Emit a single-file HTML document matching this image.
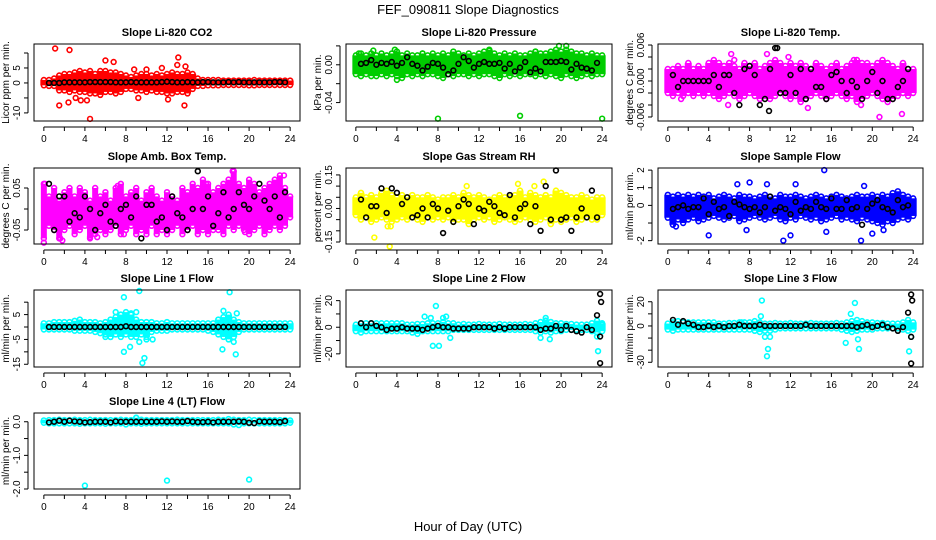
<!DOCTYPE html>
<html><head><meta charset="utf-8"><style>
body{margin:0;background:#fff}
svg{display:block;font-family:"Liberation Sans",Arial,sans-serif}
</style></head><body>
<svg id="chart" width="936" height="540" viewBox="0 0 936 540">
<rect width="936" height="540" fill="#fff"/>
<text x="468" y="14" text-anchor="middle" font-size="13">FEF_090811  Slope Diagnostics</text>
<text x="468" y="531" text-anchor="middle" font-size="13">Hour of Day (UTC)</text>
</svg>
<script>
const xTicks=[0,2,4,6,8,10,12,14,16,18,20,22,24];
const xTickLabels=["0","","4","","8","","12","","16","","20","","24"];
// CO2
const co2Hi=[1,1,1.5,2.5,3,3,3.5,4,3.5,4,3,4,4,3.5,3.5,3,2.5,2,2.5,3,3,2.5,3,2.5,3,3.5,3,3,3.5,3,1.5,1,1,1,1,0.8,0.8,0.8,0.8,0.8,0.8,1,0.8,0.8,0.8,0.8,0.8,0.8,0.8];
const co2Lo=[-0.8,-1,-1,-2.5,-2.5,-3,-2.5,-3,-3,-3.5,-3.5,-4,-3,-3,-3.5,-3,-2,-2,-2.5,-2.5,-3,-2.5,-3,-3,-3.5,-3.5,-3,-3,-3.5,-2,-1,-1,-0.8,-0.8,-0.8,-0.7,-0.7,-0.7,-0.7,-0.7,-0.8,-0.8,-0.7,-0.7,-0.7,-0.7,-0.7,-0.7,-0.7];
const co2OutX=[1.1,2.5,1.5,2.4,3.1,3.6,4.2,4.5,6,6.8,9.2,10,12.1,13.1,13,13.7,13.8,8.8,11.5];
const co2OutY=[11.5,11,-7.5,-6.5,-5,-5.8,-5.8,-12,7.5,7,-5,4.5,-5.5,8.5,6,-7.5,5.5,4.5,5];
const co2Blk=[0,0,0,0.2,0.2,0.2,0.2,0.2,0.3,0.3,0.3,0.3,0.3,0.2,0.2,0.2,0.3,0.2,0.2,0.2,0.2,0.2,0.3,0.4,0.3,0.2,0.2,0.3,0.2,0.2,0.3,0.3,0.2,0.2,0.2,0.3,0.2,0.3,0.2,0.2,0.2,0.2,0.2,0.2,0.3,0.3,0.2];
// Pressure
const prHi=[0.01,0.012,0.01,0.012,0.01,0.012,0.01,0.012,0.014,0.01,0.012,0.01,0.01,0.012,0.01,0.012,0.01,0.012,0.01,0.014,0.012,0.01,0.012,0.01,0.012,0.014,0.016,0.012,0.01,0.012,0.01,0.012,0.01,0.01,0.012,0.014,0.012,0.012,0.014,0.016,0.014,0.016,0.014,0.012,0.012,0.01,0.012,0.01,0.01];
const prLo=[-0.01,-0.012,-0.01,-0.012,-0.012,-0.01,-0.012,-0.01,-0.012,-0.014,-0.01,-0.012,-0.01,-0.012,-0.01,-0.01,-0.012,-0.014,-0.01,-0.012,-0.01,-0.01,-0.012,-0.01,-0.012,-0.01,-0.01,-0.012,-0.014,-0.01,-0.012,-0.01,-0.012,-0.01,-0.01,-0.012,-0.01,-0.012,-0.01,-0.012,-0.014,-0.01,-0.012,-0.014,-0.012,-0.01,-0.012,-0.01,-0.01];
const prOutX=[8,16,24,1.7,3.8,13,19.8,20.5,4,0.3,6.5,17.5];
const prOutY=[-0.057,-0.054,-0.057,0.015,0.016,0.015,0.02,0.02,-0.016,0.012,0.012,0.014];
const prBlk=[0.001,0.002,0.005,0,0.002,0.001,0.003,-0.001,0.002,0.008,0.001,-0.001,-0.006,-0.002,0.002,0.001,-0.003,-0.01,-0.006,0.001,0.008,0.004,-0.003,0.001,0.003,0.001,0.001,0.002,-0.004,0.001,-0.007,-0.003,0.003,-0.008,-0.004,-0.007,0.003,0.003,0.003,0.004,0.003,-0.005,0.001,-0.003,-0.004,-0.006,0.002];
// Temp
const tpHi=[0.002,0.002,0.0025,0.002,0.003,0.002,0.0025,0.002,0.003,0.0035,0.003,0.0025,0.003,0.0025,0.002,0.003,0.0025,0.003,0.002,0.0025,0.003,0.0035,0.003,0.0025,0.003,0.0025,0.003,0.0025,0.002,0.003,0.0025,0.002,0.0025,0.003,0.002,0.0025,0.003,0.0035,0.003,0.003,0.0025,0.003,0.0035,0.003,0.0025,0.002,0.003,0.002,0.002];
const tpLo=[-0.002,-0.0025,-0.002,-0.0025,-0.002,-0.0025,-0.002,-0.0025,-0.002,-0.0025,-0.003,-0.0025,-0.002,-0.0025,-0.003,-0.0025,-0.002,-0.0025,-0.003,-0.0025,-0.003,-0.0025,-0.002,-0.0025,-0.003,-0.0025,-0.0035,-0.003,-0.0025,-0.002,-0.0025,-0.003,-0.0025,-0.002,-0.0025,-0.003,-0.0025,-0.0035,-0.003,-0.0025,-0.002,-0.0025,-0.003,-0.0035,-0.003,-0.0025,-0.002,-0.0025,-0.002];
const tpOutX=[6.2,9.7,20.7,22.9,1.3,5.9,13.7,18.9,11.8,6.5,18.2];
const tpOutY=[0.0045,0.0045,-0.006,-0.0055,-0.003,-0.004,-0.0045,-0.004,0.004,0.0035,0.0035];
const tpBlk=[0.001,-0.001,0,0,0,0,0,0,0.001,-0.001,0.001,0.001,-0.002,-0.004,0.002,0.0025,0.001,-0.004,-0.003,0.002,0.0055,-0.002,-0.002,0.001,-0.002,0.002,-0.003,0.002,-0.001,-0.001,-0.003,0.001,0.0015,0,-0.002,0,-0.001,-0.003,0,0.0015,-0.002,0,-0.003,-0.003,-0.001,0,0.002];
// Amb box temp
const amHi=[0.06,0.03,0.05,0.02,0.04,0.05,0.03,0.05,0.04,0.02,0.05,0.03,0.04,0.02,0.05,0.06,0.03,0.04,0.05,0.02,0.04,0.05,0.03,0.02,0.04,0.03,0.02,0.05,0.04,0.06,0.05,0.07,0.06,0.04,0.05,0.06,0.07,0.09,0.06,0.05,0.07,0.06,0.04,0.05,0.06,0.07,0.08,0.05,0.03];
const amLo=[-0.07,-0.04,-0.05,-0.07,-0.05,-0.04,-0.06,-0.05,-0.04,-0.07,-0.06,-0.05,-0.06,-0.05,-0.04,-0.06,-0.05,-0.04,-0.06,-0.05,-0.06,-0.04,-0.06,-0.05,-0.06,-0.05,-0.04,-0.06,-0.05,-0.04,-0.06,-0.05,-0.06,-0.05,-0.05,-0.06,-0.04,-0.05,-0.04,-0.05,-0.06,-0.05,-0.04,-0.06,-0.05,-0.04,-0.05,-0.04,-0.02];
const amOutX=[0,1.6,1.8,4.5,5.2,7.8,18.4,19.6,23.4,0.1,7.2,15.8];
const amOutY=[-0.08,-0.07,-0.075,-0.067,-0.067,-0.06,0.09,-0.055,0.08,0.06,0.055,0.06];
const amBlk=[0.06,-0.05,0.03,0.03,-0.03,-0.01,-0.02,0.03,0,-0.05,-0.01,0.01,-0.03,-0.04,0,0.01,-0.02,0.03,-0.07,0.01,0.01,-0.03,-0.02,-0.05,0.03,-0.01,-0.02,-0.05,0,0.09,0,0.03,-0.04,-0.01,0.04,-0.02,0,0.04,0.01,0,0.03,0.06,0.02,0,0.03,-0.02,0.04];
// RH
const rhHi=[0.05,0.07,0.05,0.06,0.05,0.07,0.08,0.06,0.05,0.06,0.05,0.06,0.05,0.05,0.06,0.05,0.04,0.05,0.05,0.06,0.05,0.07,0.06,0.05,0.06,0.05,0.04,0.05,0.06,0.05,0.05,0.06,0.08,0.05,0.07,0.06,0.05,0.06,0.05,0.08,0.07,0.06,0.05,0.05,0.06,0.05,0.04,0.05,0.05];
const rhLo=[-0.03,-0.05,-0.04,-0.06,-0.05,-0.04,-0.05,-0.06,-0.05,-0.04,-0.05,-0.04,-0.05,-0.06,-0.04,-0.05,-0.04,-0.05,-0.04,-0.06,-0.05,-0.05,-0.07,-0.05,-0.04,-0.05,-0.04,-0.06,-0.05,-0.04,-0.05,-0.06,-0.05,-0.04,-0.05,-0.06,-0.05,-0.04,-0.07,-0.05,-0.06,-0.05,-0.04,-0.06,-0.05,-0.04,-0.05,-0.05,-0.03];
const rhOutX=[1.8,3.3,3.1,3.4,10.8,15.8,18.3,17.4];
const rhOutY=[-0.13,-0.17,-0.08,-0.08,0.1,0.11,0.12,0.1];
const rhBlk=[0.04,-0.04,0.01,0.01,0.09,-0.02,0.09,0.07,0.02,0.05,-0.04,-0.03,0,-0.04,0.02,0,-0.11,-0.01,-0.06,0.01,0.04,0.02,-0.07,0,-0.01,0.03,0.01,-0.02,-0.03,0.06,-0.04,0,0.02,-0.07,0.01,-0.1,0.1,-0.05,0.17,-0.05,-0.04,-0.1,-0.04,0,-0.04,0.08,-0.04];
// Sample flow
const sfHi=[0.6,0.5,0.6,0.5,0.6,0.5,0.6,0.5,0.6,0.4,0.5,0.6,0.5,0.4,0.6,0.5,0.5,0.4,0.5,0.6,0.5,0.4,0.6,0.5,0.5,0.6,0.5,0.4,0.5,0.6,0.5,0.4,0.5,0.6,0.5,0.4,0.5,0.6,0.5,0.5,0.6,0.5,0.6,0.5,0.7,0.8,0.6,0.5,0.4];
const sfLo=[-0.7,-1.1,-0.8,-1,-0.8,-0.7,-0.9,-0.8,-0.7,-0.6,-0.7,-0.8,-0.7,-0.6,-0.9,-0.8,-0.7,-0.6,-0.7,-0.8,-0.7,-0.6,-0.8,-0.9,-0.7,-0.8,-0.6,-0.7,-0.8,-0.7,-0.9,-0.8,-0.7,-0.6,-0.8,-0.7,-0.8,-0.9,-0.7,-0.8,-0.9,-1,-1.1,-0.9,-1,-0.8,-0.7,-0.8,-0.6];
const sfOutX=[15.3,11.3,18.9,4,12,6.8,8,9.7,12.5,19.2,7.7,15.5,0.8,21.1,20];
const sfOutY=[2,-2,-2,-1.7,-1.7,1.2,1.3,1.2,1.2,1.1,-1.4,-1.5,-1.2,-1.4,-1.6];
const sfBlk=[-0.2,-0.1,0,-0.2,-0.1,-0.1,0.4,-0.5,0.2,-0.2,-0.1,-0.6,0.2,0.05,-0.1,-0.2,-0.1,-0.4,-0.1,0.5,-0.3,-0.1,-0.2,-0.5,0.2,-0.3,-0.1,-0.2,0.2,-0.1,-0.2,0.4,-0.2,-0.2,0.3,-0.2,-0.1,-1.1,-0.2,0.1,0.3,-0.1,-0.2,-0.4,0.3,-0.1,0];
// Line 1
const l1Hi=[1.5,1.5,2,2,2,2,2.5,3,2,2,2,1.5,2,3,4,5,6,5,3,2,2,2,1.5,1.5,2,1.5,1.5,1.5,1.5,1.5,1.5,1.5,1.5,1.5,3,4,5,3,2,1.5,1.5,1.5,1.5,1.5,1.5,1.5,1.5,1.5,1.5];
const l1Lo=[-1,-1,-1,-1,-1,-1,-1.5,-1.5,-1.5,-1.5,-2,-2.5,-3,-4,-3,-4,-3,-4,-4,-3,-4,-2,-1.5,-1.5,-1.5,-1,-1,-1,-1,-1,-1,-1,-1.5,-2,-3,-4,-5,-4,-2,-1,-1,-1,-1,-1,-1,-1,-1,-1,-1];
const l1OutX=[7.8,9.3,18.1,7,7.5,8.5,9,17.5,18.8,7.8,8.4,9.6,9.8,17.4,18.7,9.3,10,10.6,18.5,6,6.5];
const l1OutY=[12,14.5,14,6,5,5.5,6,6.5,5.5,-10,-8,-14.5,-12.5,-9,-11,-6,-5,-5,-6,-4,-4];
const l1Blk=[0,0,0,0,0,0,0,0,0,0,0,0,0,0,0,0.3,0,0,0,0,0,0,0,0,0,0,0,0,0,0,0,0,0,0,0,0,0,0,0,0,0,0,0,0,0,0,0];
// Line 2
const l2Hi=[2,3,3,3,3,3,3,3,3,3,2,2,2.5,2.5,3,3,3,4,3,3,2,2.5,2,2,2.5,2,2,2,2.5,2,2,2,2,2.5,2,3,4,5,4,3,3,2.5,2.5,2,2,2,3,5,3];
const l2Lo=[-3,-4,-3,-3,-3,-3,-3,-3,-3,-3,-3,-4,-5,-3,-3,-3,-3,-3,-3,-2,-2,-2,-2,-2,-2,-2,-2,-2,-2,-2,-2,-2,-2,-2,-2,-3,-4,-3,-4,-3,-3,-2,-2,-2,-2,-2,-3,-4,-3];
const l2OutX=[6.7,7.3,7.8,8.5,8.8,9.2,7.5,8.1,18,18.5,18.9,23.5,23.6,24];
const l2OutY=[8,7,16,7,8,-8,-14,-14,-8,7,-9,-7,-18,2];
const l2Blk=[3,0,3,1,0,-2,-1,-1,0,-1,-1,-1,-2,-1,0,1,0,0,-1,-1,-1,-1,0,0,0,0,-1,0,-1,0,0,0,0,0,0,-2,-1,-1,1,-2,1,-2,-3,-4,0,-2,9];
const l2BlkOutX=[23.8,23.9,23.8,23.8];
const l2BlkOutY=[25,19,-7,-27];
// Line 3
const l3Hi=[2,3,4,3,3,3,3,3,3,3,2,2,2.5,2.5,3,3,3,4,3,2,2,2.5,2,2,2.5,2,2,2,2.5,2,2,2,2,2.5,2,3,4,5,4,3,3,2.5,2.5,2,2,2,3,5,3];
const l3Lo=[-3,-4,-3,-3,-3,-3,-3,-3,-3,-3,-3,-3,-3,-3,-3,-3,-3,-4,-5,-4,-4,-3,-2,-2,-2,-2,-2,-2,-2,-2,-2,-2,-2,-2,-3,-4,-5,-4,-3,-3,-3,-2,-2,-2,-2,-2,-3,-4,-3];
const l3OutX=[9.2,9.1,9.7,9.8,9.5,10,18.3,17.9,17.4,18.7,18.6,23.6,23.8,7.2];
const l3OutY=[21,8,-25,-19,-9,-9,19,10,-14,-19,-11,-21,-9,3];
const l3Blk=[5,1,4,2,1,-1,-1,0,-1,0,-1,0,0,1,0,0,0,1,0,0,0,0,0,0,0,0,1,0,0,0,0,0,0,0,0,0,-1,0,1,-1,0,1,-1,-2,-4,-1,11];
const l3BlkOutX=[23.8,23.9,23.8,23.8];
const l3BlkOutY=[26,21,-9,-31];
// Line 4
const l4Hi=[0.04,0.05,0.05,0.06,0.05,0.05,0.06,0.05,0.05,0.06,0.05,0.05,0.05,0.05,0.05,0.06,0.05,0.05,0.12,0.06,0.05,0.05,0.05,0.05,0.05,0.05,0.06,0.05,0.05,0.05,0.05,0.05,0.05,0.05,0.06,0.05,0.08,0.06,0.05,0.05,0.06,0.05,0.05,0.05,0.05,0.05,0.05,0.05,0.04];
const l4Lo=[-0.03,-0.05,-0.05,-0.05,-0.05,-0.05,-0.05,-0.06,-0.05,-0.05,-0.05,-0.05,-0.06,-0.05,-0.05,-0.05,-0.08,-0.05,-0.05,-0.06,-0.05,-0.05,-0.05,-0.05,-0.05,-0.05,-0.05,-0.05,-0.05,-0.05,-0.05,-0.05,-0.05,-0.05,-0.05,-0.05,-0.05,-0.08,-0.1,-0.05,-0.05,-0.05,-0.05,-0.05,-0.05,-0.05,-0.05,-0.05,-0.03];
const l4OutX=[4,12,20,9];
const l4OutY=[-1.9,-1.75,-1.72,0.12];
const l4Blk=[-0.02,0,0.03,0,0.03,0.01,0,-0.02,-0.01,0,0,0,-0.02,0.01,0,0,0,0,0,0,0,0,0.01,0,0.01,0,0,0.02,0,-0.01,-0.01,0,-0.02,0,0,0,0,0.01,0,-0.03,-0.04,0.01,0,0,0,-0.01,0.02];

// layout (not data)
const colL=[34,346,658], colR=[300,612,923];
const rowT=[44,168,290,413], rowB=[121,244,367,489];
const panels=[
 {name:"co2",title:"Slope Li-820 CO2",ylab:"Licor ppm per min.",col:0,row:0,ymin:-12.7,ymax:13,ticks:[-10,-5,0,5,10],tl:["-10","","0","5",""],color:"#ff0000",hi:co2Hi,lo:co2Lo,ox:co2OutX,oy:co2OutY,blk:co2Blk,bw:7},
 {name:"pressure",title:"Slope Li-820 Pressure",ylab:"kPa per min.",col:1,row:0,ymin:-0.0595,ymax:0.022,ticks:[-0.04,-0.02,0,0.02],tl:["-0.04","","0.00",""],color:"#00cd00",hi:prHi,lo:prLo,ox:prOutX,oy:prOutY,blk:prBlk,bw:7},
 {name:"temp",title:"Slope Li-820 Temp.",ylab:"degrees C per min.",col:2,row:0,ymin:-0.00667,ymax:0.00617,ticks:[-0.006,-0.004,-0.002,0,0.002,0.004,0.006],tl:["-0.006","","","0.000","","","0.006"],color:"#ff00ff",hi:tpHi,lo:tpLo,ox:tpOutX,oy:tpOutY,blk:tpBlk,bw:7,box:[10.7,9.9],boy:[0.0055,-0.005]},
 {name:"amb-box-temp",title:"Slope Amb. Box Temp.",ylab:"degrees C per min.",col:0,row:1,ymin:-0.0833,ymax:0.0976,ticks:[-0.05,0,0.05],tl:["-0.05","","0.05"],color:"#ff00ff",hi:amHi,lo:amLo,ox:amOutX,oy:amOutY,blk:amBlk,bw:6},
 {name:"gas-stream-rh",title:"Slope Gas Stream RH",ylab:"percent per min.",col:1,row:1,ymin:-0.159,ymax:0.181,ticks:[-0.15,-0.1,-0.05,0,0.05,0.1,0.15],tl:["-0.15","","","0.00","","","0.15"],color:"#ffff00",hi:rhHi,lo:rhLo,ox:rhOutX,oy:rhOutY,blk:rhBlk,bw:7},
 {name:"sample-flow",title:"Slope Sample Flow",ylab:"ml/min per min.",col:2,row:1,ymin:-2.19,ymax:2.12,ticks:[-2,-1,0,1,2],tl:["-2","","0","1","2"],color:"#0000ff",hi:sfHi,lo:sfLo,ox:sfOutX,oy:sfOutY,blk:sfBlk,bw:7},
 {name:"line1-flow",title:"Slope Line 1 Flow",ylab:"ml/min per min.",col:0,row:2,ymin:-16.1,ymax:14.9,ticks:[-15,-10,-5,0,5,10],tl:["-15","","-5","","5",""],color:"#00ffff",hi:l1Hi,lo:l1Lo,ox:l1OutX,oy:l1OutY,blk:l1Blk,bw:7},
 {name:"line2-flow",title:"Slope Line 2 Flow",ylab:"ml/min per min.",col:1,row:2,ymin:-29.9,ymax:28,ticks:[-20,-10,0,10,20],tl:["-20","","0","","20"],color:"#00ffff",hi:l2Hi,lo:l2Lo,ox:l2OutX,oy:l2OutY,blk:l2Blk,bw:7,box:l2BlkOutX,boy:l2BlkOutY},
 {name:"line3-flow",title:"Slope Line 3 Flow",ylab:"ml/min per min.",col:2,row:2,ymin:-33.9,ymax:29.7,ticks:[-30,-20,-10,0,10,20],tl:["-30","","","0","","20"],color:"#00ffff",hi:l3Hi,lo:l3Lo,ox:l3OutX,oy:l3OutY,blk:l3Blk,bw:7,box:l3BlkOutX,boy:l3BlkOutY},
 {name:"line4-flow",title:"Slope Line 4 (LT) Flow",ylab:"ml/min per min.",col:0,row:3,ymin:-2.0,ymax:0.26,ticks:[-2,-1.5,-1,-0.5,0],tl:["-2.0","","-1.0","","0.0"],color:"#00ffff",hi:l4Hi,lo:l4Lo,ox:l4OutX,oy:l4OutY,blk:l4Blk,bw:7}
];
const NS="http://www.w3.org/2000/svg";
const svg=document.getElementById('chart');
function mk(tag,attrs,parent){const e=document.createElementNS(NS,tag);for(const k in attrs)e.setAttribute(k,attrs[k]);(parent||svg).appendChild(e);return e;}
panels.forEach(p=>{
  const L=colL[p.col],R=colR[p.col],T=rowT[p.row],B=rowB[p.row];
  const xs=h=>L+(h+0.96)/25.92*(R-L);
  const ys=v=>B-(v-p.ymin)/(p.ymax-p.ymin)*(B-T);
  const g=mk('g',{});
  
  
  const t=mk('text',{x:(L+R)/2,y:T-8,'text-anchor':'middle','font-size':11,'font-weight':'bold'},g);t.textContent=p.title;
  
  
  const pts=mk('g',{fill:'none','stroke-width':1.6},g);
  
  
  p.hi.forEach((v,i)=>{
    const x=xs(i*0.5);
    const bar=mk('line',{x1:x,x2:x,y1:ys(v),y2:ys(p.lo[i]),stroke:p.color,'stroke-width':p.bw},pts);
    
    
    [v,p.lo[i]].forEach(val=>{const c=mk('circle',{cx:x,cy:ys(val),r:2.4,stroke:p.color},pts);
      
      });
  });
  p.ox.forEach((h,i)=>{const c=mk('circle',{cx:xs(h),cy:ys(p.oy[i]),r:2.4,stroke:p.color},pts);
    
    });
  p.blk.forEach((v,i)=>{const c=mk('circle',{cx:xs(0.5*(i+1)),cy:ys(v),r:2.4,stroke:'#000'},pts);
    
    });
  (p.box||[]).forEach((h,i)=>{const c=mk('circle',{cx:xs(h),cy:ys(p.boy[i]),r:2.4,stroke:'#000'},pts);
    
    });
  const box=mk('rect',{x:L,y:T,width:R-L,height:B-T,fill:'none',stroke:'#000','stroke-width':1},g);
  
  
  const ax=mk('g',{stroke:'#000','stroke-width':1},g);
  
  
  mk('line',{x1:xs(0),x2:xs(24),y1:B+6,y2:B+6},ax);
  xTicks.forEach((h,i)=>{mk('line',{x1:xs(h),x2:xs(h),y1:B+6,y2:B+10},ax);
    if(xTickLabels[i]){const tx=mk('text',{x:xs(h),y:B+21,'text-anchor':'middle','font-size':10,stroke:'none',fill:'#000'},ax);tx.textContent=xTickLabels[i];
      
      }});
  const ay=mk('g',{stroke:'#000','stroke-width':1},g);
  
  
  mk('line',{x1:L-6,x2:L-6,y1:ys(p.ticks[0]),y2:ys(p.ticks[p.ticks.length-1])},ay);
  p.ticks.forEach((v,i)=>{mk('line',{x1:L-6,x2:L-10,y1:ys(v),y2:ys(v)},ay);
    if(p.tl[i]){const x=L-14,y=ys(v);const tx=mk('text',{x:x,y:y,'text-anchor':'middle','font-size':10,stroke:'none',fill:'#000',transform:`rotate(-90 ${x} ${y})`},ay);tx.textContent=p.tl[i];
      
      }});
  const yx=L-25,yy=(T+B)/2;
  const yt=mk('text',{x:yx,y:yy,'text-anchor':'middle','font-size':10,transform:`rotate(-90 ${yx} ${yy})`},g);yt.textContent=p.ylab;
  
  
});
</script>
</body></html>
